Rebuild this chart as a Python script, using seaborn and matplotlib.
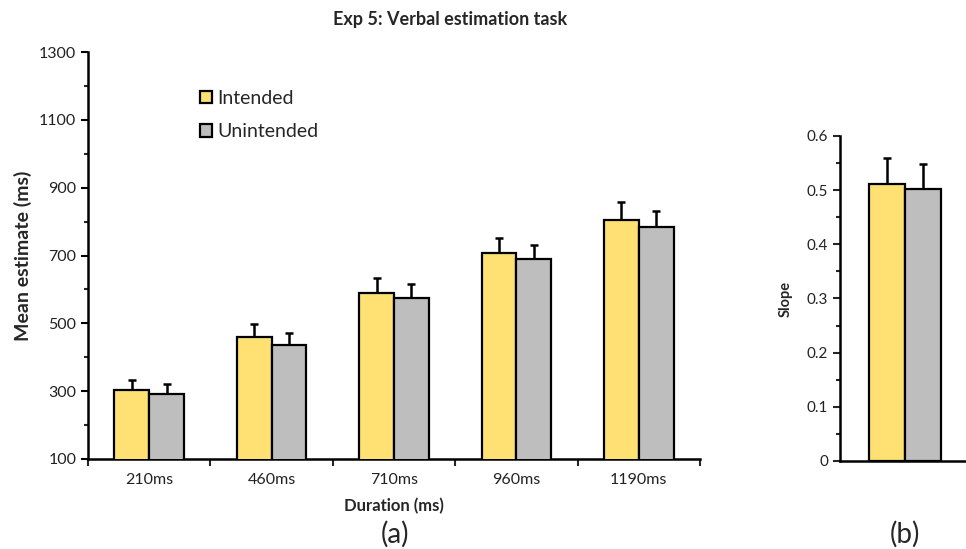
import matplotlib
matplotlib.use("Agg")
import matplotlib.pyplot as plt
import seaborn as sns
import pandas as pd
import numpy as np
from matplotlib.ticker import MultipleLocator, FixedLocator
from matplotlib.patches import Patch

durations = ["210ms", "460ms", "710ms", "960ms", "1190ms"]
conditions = ["Intended", "Unintended"]
intended_mean = [302, 459, 590, 708, 805]
intended_err = [32, 38, 44, 43, 52]
unintended_mean = [292, 437, 574, 690, 784]
unintended_err = [30, 35, 42, 41, 47]
slope_mean = [0.511, 0.503]
slope_err = [0.049, 0.046]
y_ticks = [100, 300, 500, 700, 900, 1100, 1300]

colors = {"Intended": "#FFE173", "Unintended": "#BEBEBE"}

sns.set_style("white")
plt.rcParams['font.family'] = ['Lato', 'DejaVu Sans']

df = pd.DataFrame({
    "Duration": durations * 2,
    "Condition": ["Intended"] * 5 + ["Unintended"] * 5,
    "Mean": intended_mean + unintended_mean,
})
errs = {"Intended": intended_err, "Unintended": unintended_err}

W, H = 966, 549
fig = plt.figure(figsize=(W / 100, H / 100), dpi=100)

def rect(x0, y0, x1, y1):
    return [x0 / W, 1 - y1 / H, (x1 - x0) / W, (y1 - y0) / H]

ax = fig.add_axes(rect(88, 52, 700, 459))
sns.barplot(data=df, x="Duration", y="Mean", hue="Condition", order=durations,
            hue_order=conditions, palette=colors, edgecolor="black", linewidth=1.6,
            width=0.57, saturation=1, errorbar=None, legend=False, ax=ax, zorder=3)
for cont, cond in zip(ax.containers, conditions):
    for bar, e in zip(cont, errs[cond]):
        xc = bar.get_x() + bar.get_width() / 2
        ax.errorbar(xc, bar.get_height(), yerr=[[0], [e]], fmt="none", ecolor="black",
                    elinewidth=1.8, capsize=3, capthick=1.8, zorder=2)

ax.set_ylim(100, 1300)
ax.set_xlim(-0.5, 4.5)
ax.yaxis.set_major_locator(FixedLocator(y_ticks))
ax.yaxis.set_minor_locator(MultipleLocator(100))
ax.xaxis.set_major_locator(FixedLocator(range(5)))
ax.set_xticklabels(durations)
ax.xaxis.set_minor_locator(FixedLocator(np.arange(-0.5, 5, 1)))
ax.tick_params(axis="x", which="major", length=0, labelsize=11.5, pad=10, colors="#222222")
ax.tick_params(axis="x", which="minor", length=5, width=1.5, direction="out", bottom=True)
ax.tick_params(axis="y", which="major", length=5, width=1.5, direction="out", left=True,
               labelsize=11.5, colors="black", labelcolor="#222222")
ax.tick_params(axis="y", which="minor", length=3, width=1.5, direction="out", left=True)
for s in ["top", "right"]:
    ax.spines[s].set_visible(False)
for s in ["left", "bottom"]:
    ax.spines[s].set_linewidth(1.8)
    ax.spines[s].set_color("black")
ax.set_xlabel("Duration (ms)", fontsize=12, fontweight="bold", labelpad=8)
ax.set_ylabel("Mean estimate (ms)", fontsize=14, fontweight="bold", labelpad=5)

handles = [Patch(facecolor=colors[c], edgecolor="black", linewidth=1.6) for c in conditions]
ax.legend(handles, conditions, loc="upper left", bbox_to_anchor=(0.155, 0.95), frameon=False,
          fontsize=14, handlelength=0.6, handleheight=0.6, handletextpad=0.25, labelspacing=0.85)

fig.text(450 / W, 1 - 25 / H, "Exp 5: Verbal estimation task", ha="center", va="baseline",
         fontsize=13, fontweight="bold")
fig.text(395 / W, 1 - 543 / H, "(a)", ha="center", va="baseline", fontsize=20)
fig.text(905 / W, 1 - 543 / H, "(b)", ha="center", va="baseline", fontsize=20)

# Slope panel
ax2 = fig.add_axes(rect(840, 136, 970, 461))
sdf = pd.DataFrame({"Condition": conditions, "Slope": slope_mean})
sns.barplot(data=sdf, x=[0, 0], y="Slope", hue="Condition", hue_order=conditions,
            palette=colors, edgecolor="black", linewidth=1.6, width=0.55, saturation=1,
            errorbar=None, legend=False, ax=ax2, zorder=3)
for cont, e in zip(ax2.containers, slope_err):
    for bar in cont:
        xc = bar.get_x() + bar.get_width() / 2
        ax2.errorbar(xc, bar.get_height(), yerr=[[0], [e]], fmt="none", ecolor="black",
                     elinewidth=1.8, capsize=3, capthick=1.8, zorder=2)
ax2.set_ylim(0, 0.6)
ax2.set_xlim(-0.5, 0.5)
ax2.yaxis.set_major_locator(MultipleLocator(0.1))
ax2.yaxis.set_minor_locator(MultipleLocator(0.05))
ax2.yaxis.set_major_formatter(matplotlib.ticker.FuncFormatter(lambda v, p: ("%g" % round(v, 2))))
ax2.set_xticks([])
ax2.tick_params(axis="y", which="major", length=5, width=1.5, direction="out", left=True,
                labelsize=11, labelcolor="#222222")
ax2.tick_params(axis="y", which="minor", length=3, width=1.5, direction="out", left=True)
for s in ["top", "right"]:
    ax2.spines[s].set_visible(False)
for s in ["left", "bottom"]:
    ax2.spines[s].set_linewidth(1.8)
    ax2.spines[s].set_color("black")
ax2.set_xlabel("")
ax2.set_ylabel("Slope", fontsize=10.5, fontweight="bold", labelpad=10)

fig.savefig("out.png", dpi=100)
